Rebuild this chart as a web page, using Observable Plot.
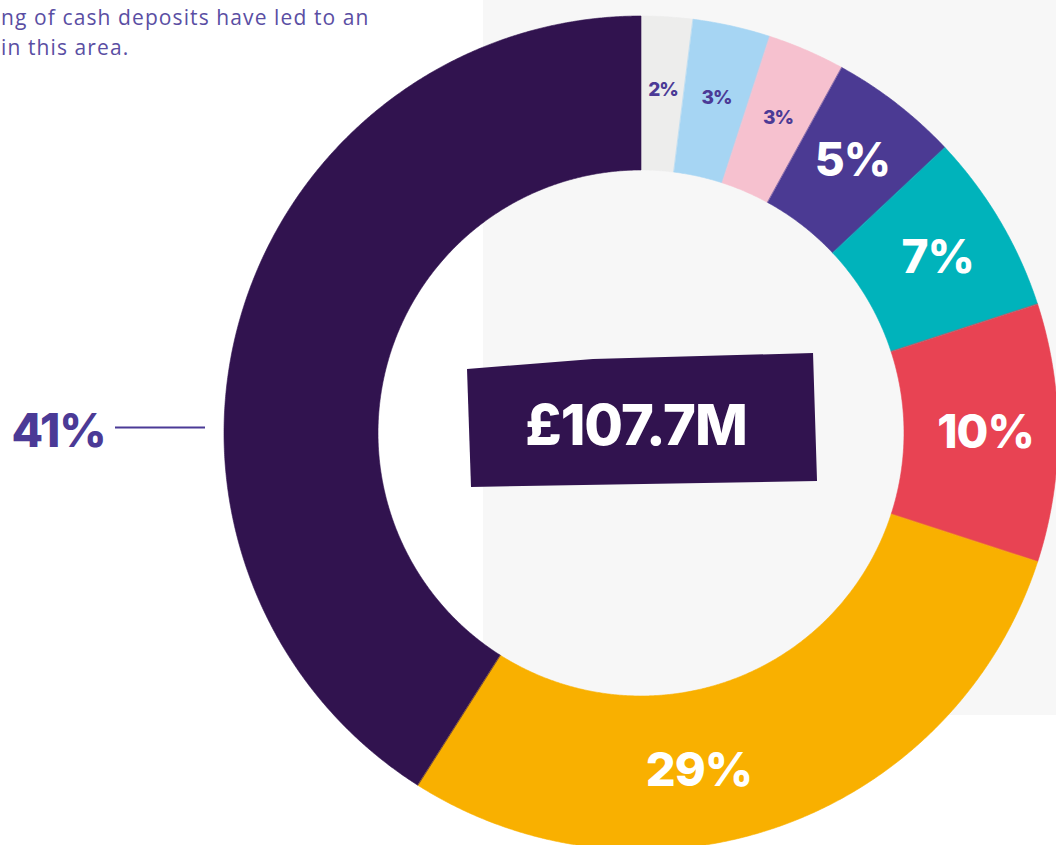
<!DOCTYPE html>
<html>
<head>
<meta charset="utf-8">
<script src="https://cdn.jsdelivr.net/npm/d3@7"></script>
<script src="https://cdn.jsdelivr.net/npm/@observablehq/plot@0.6"></script>
<style>
  html, body { margin: 0; padding: 0; background: #ffffff; }
  #wrap { position: relative; width: 1056px; height: 845px; overflow: hidden; background: #ffffff; }
  #panel { position: absolute; left: 483px; top: 0; width: 573px; height: 715px; background: #f7f7f7; }
  #intro { position: absolute; left: 1px; top: 2px; font-family: "Open Sans", Lato, sans-serif; font-size: 21px; line-height: 30px; color: #5a4ea3; white-space: nowrap; letter-spacing: 1.1px; }
  #chart { position: absolute; left: 0; top: 0; }
  #chart svg { background: transparent; }
  #chart text { letter-spacing: -1px; }
  #badge { position: absolute; left: 467px; top: 353px; width: 350px; height: 134px; background: #31134f;
           clip-path: polygon(0px 16px, 126px 6px, 346px 0px, 350px 128px, 4px 134px);
           display: flex; align-items: center; justify-content: center; box-sizing: border-box; padding-right: 12px; padding-top: 10px;
           font-family: Inter, Lato, sans-serif; font-weight: 800; font-size: 56px; color: #ffffff; letter-spacing: -1px; }
</style>
</head>
<body>
<div id="wrap">
  <div id="panel"></div>
  <div id="intro">ng of cash deposits have led to an<br>in this area.</div>
  <div id="chart"></div>
  <div id="badge"></div>
</div>
<script>
// ---- data ----
const categories = ["Segment A", "Segment B", "Segment C", "Segment D", "Segment E", "Segment F", "Segment G", "Segment H"];
const values = [2, 3, 3, 5, 7, 10, 29, 41];
const colors = ["#ededec", "#a6d5f3", "#f6c1cf", "#4b3a93", "#00b3bb", "#e84353", "#f9b000", "#31134f"];
const totalLabel = "£107.7M";

// ---- layout ----
const W = 1056, H = 845;
const cx = 641, cy = 433, R = 417, r0 = 263;

const arcs = d3.pie().sort(null).value(d => d)(values);

const ring = [];
arcs.forEach((a, i) => {
  const n = Math.max(8, Math.ceil((a.endAngle - a.startAngle) / 0.005));
  for (let k = 0; k <= n; k++) {
    const t = a.startAngle + (a.endAngle - a.startAngle) * k / n;
    ring.push({cat: categories[i], ox: R * Math.sin(t), oy: -R * Math.cos(t), ix: r0 * Math.sin(t), iy: -r0 * Math.cos(t)});
  }
});

const labelR = 344;
const labels = arcs.map((a, i) => {
  const m = (a.startAngle + a.endAngle) / 2;
  return {cat: categories[i], v: values[i], text: values[i] + "%", x: labelR * Math.sin(m), y: -labelR * Math.cos(m)};
});
const small = labels.filter(d => d.v <= 3);
const big = labels.filter(d => d.v > 3 && d.v < 20);
const mid = labels.filter(d => d.v >= 20 && d.v < 40);
const outside = labels.filter(d => d.v >= 40).map(d => ({...d, x: -(R + 166), y: -1}));
const leader = outside.map(d => ({x1: -(R + 109), x2: -(R + 19), y: -6}));

const numFont = "Inter, Lato, sans-serif";

const chart = Plot.plot({
  width: W, height: H,
  margin: 0,
  x: {domain: [-cx, W - cx], range: [0, W], axis: null},
  y: {domain: [-cy, H - cy], range: [0, H], axis: null},
  color: {type: "ordinal", domain: categories, range: colors},
  style: {background: "transparent", overflow: "visible"},
  marks: [
    Plot.area(ring, {x1: "ox", y1: "oy", x2: "ix", y2: "iy", z: "cat", fill: "cat", stroke: "cat", strokeWidth: 0.6, curve: "linear"}),
    Plot.text(small, {x: "x", y: "y", text: "text", fill: "#4b3a96", fontSize: 19, fontWeight: 800, fontFamily: numFont}),
    Plot.text(big, {x: "x", y: "y", text: "text", fill: "#ffffff", fontSize: 46, fontWeight: 800, fontFamily: numFont}),
    Plot.text(mid, {x: "x", y: "y", text: "text", fill: "#ffffff", fontSize: 47, fontWeight: 800, fontFamily: numFont, dx: -59, dy: 14}),
    Plot.text(outside, {x: "x", y: "y", text: "text", fill: "#4b3a96", fontSize: 46, fontWeight: 800, fontFamily: numFont}),
    Plot.ruleY(leader, {x1: "x1", x2: "x2", y: "y", stroke: "#4b3a96", strokeWidth: 2.2})
  ]
});
document.getElementById("chart").appendChild(chart);
document.getElementById("badge").textContent = totalLabel;
</script>
</body>
</html>
